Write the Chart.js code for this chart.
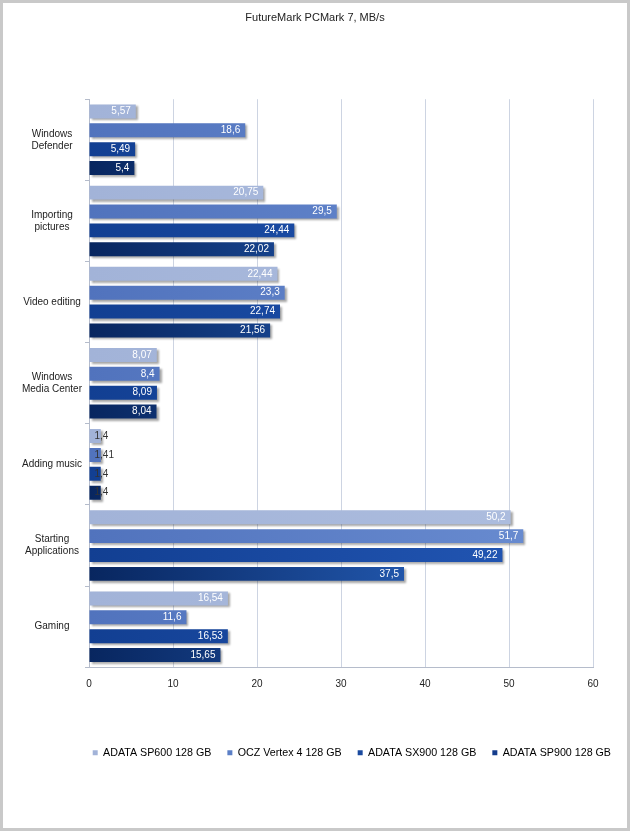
<!DOCTYPE html>
<html>
<head>
<meta charset="utf-8">
<script src="https://cdn.jsdelivr.net/npm/chart.js@4/dist/chart.umd.min.js"></script>
<style>
  html, body { margin: 0; padding: 0; background: #fff; }
  #frame {
    position: absolute; left: 0; top: 0;
    width: 630px; height: 831px;
    box-sizing: border-box;
    border: 3px solid #c9c9c9;
  }
  #frame canvas { display: block; }
</style>
</head>
<body>
<div id="frame"><canvas id="pcmark" width="624" height="825"></canvas></div>
<script>
// Data

const categories = [
    ['Windows', 'Defender'],
    ['Importing', 'pictures'],
    'Video editing',
    ['Windows', 'Media Center'],
    'Adding music',
    ['Starting', 'Applications'],
    'Gaming'
];

const seriesNames = ['ADATA SP600 128 GB', 'OCZ Vertex 4 128 GB', 'ADATA SX900 128 GB', 'ADATA SP900 128 GB'];

const sp600 = [5.57, 20.75, 22.44, 8.07, 1.4, 50.2, 16.54];
const vertex4 = [18.6, 29.5, 23.3, 8.4, 1.41, 51.7, 11.6];
const sx900 = [5.49, 24.44, 22.74, 8.09, 1.4, 49.22, 16.53];
const sp900 = [5.4, 22.02, 21.56, 8.04, 1.4, 37.5, 15.65];

const xTicks = [0, 10, 20, 30, 40, 50, 60];

// Colours (left -> right of each bar)

const barColours = [
    ['#a2b3d8', '#aebedf'],
    ['#5173bd', '#6b8ed2'],
    ['#123f92', '#2459b8'],
    ['#08265f', '#2f71d6']
];
const legendColours = ['#a2b3d8', '#5b7fc6', '#1a4a9f', '#143c8c'];

function barFill(i) {
    return (ctx) => {
        const area = ctx.chart.chartArea;
        if (!area) return barColours[i][0];
        const el = ctx.element;
        const x0 = area.left;
        const x1 = el && el.x > x0 + 2 ? el.x : area.right;
        const g = ctx.chart.ctx.createLinearGradient(x0, 0, x1, 0);
        g.addColorStop(0, barColours[i][0]);
        g.addColorStop(1, barColours[i][1]);
        return g;
    };
}

// Plugins

const barShadow = {
    id: 'barShadow',
    beforeDatasetsDraw(chart) {
        const c = chart.ctx;
        c.save();
        c.shadowColor = 'rgba(0,0,0,0.35)';
        c.shadowOffsetX = 2;
        c.shadowOffsetY = 2;
        c.shadowBlur = 2;
    },
    afterDatasetsDraw(chart) {
        chart.ctx.restore();
    }
};

const valueLabels = {
    id: 'valueLabels',
    afterDatasetsDraw(chart) {
        const c = chart.ctx;
        c.save();
        c.font = '10px "Liberation Sans", Arial, sans-serif';
        c.textBaseline = 'middle';
        chart.data.datasets.forEach((ds, i) => {
            chart.getDatasetMeta(i).data.forEach((bar, j) => {
                const txt = String(ds.data[j]).replace('.', ',');
                const w = c.measureText(txt).width;
                if (bar.x - bar.base > w + 8) {
                    c.fillStyle = '#ffffff';
                    c.textAlign = 'right';
                    c.fillText(txt, bar.x - 5, bar.y);
                } else {
                    c.fillStyle = '#333333';
                    c.textAlign = 'left';
                    c.fillText(txt, bar.base + 5, bar.y);
                }
            });
        });
        c.restore();
    }
};

// Chart

const canvas = document.getElementById('pcmark');
const allSeries = [sp600, vertex4, sx900, sp900];

new Chart(canvas, {
    type: 'bar',
    data: {
        labels: categories,
        datasets: allSeries.map((vals, i) => ({
            label: seriesNames[i],
            data: vals,
            backgroundColor: barFill(i),
            borderWidth: 0,
            categoryPercentage: 0.93,
            barPercentage: 0.74
        }))
    },
    options: {
        indexAxis: 'y',
        responsive: false,
        animation: false,
        layout: { padding: { left: 0, right: 0, top: 0, bottom: 60 } },
        plugins: {
            title: {
                display: true,
                text: 'FutureMark PCMark 7, MB/s',
                color: '#222',
                font: { family: '"Liberation Sans", Arial, sans-serif', size: 11, weight: 'normal' },
                padding: { top: 8, bottom: 75 }
            },
            legend: {
                position: 'bottom',
                align: 'end',
                labels: {
                    color: '#222',
                    boxWidth: 5,
                    boxHeight: 5,
                    padding: 16,
                    font: { family: '"Liberation Sans", Arial, sans-serif', size: 10.7 },
                    generateLabels: () => seriesNames.map((name, i) => ({
                        text: name,
                        fillStyle: legendColours[i],
                        strokeStyle: legendColours[i],
                        lineWidth: 0,
                        datasetIndex: i
                    }))
                }
            },
            tooltip: { enabled: false }
        },
        scales: {
            x: {
                min: 0,
                max: 60,
                afterBuildTicks: (axis) => { axis.ticks = xTicks.map(v => ({ value: v })); },
                afterFit: (axis) => { axis.height = 64; },
                grid: { color: '#cdd4e2', drawTicks: false },
                border: { color: '#b5bccb' },
                ticks: {
                    color: '#222',
                    padding: 11,
                    font: { family: '"Liberation Sans", Arial, sans-serif', size: 10 }
                }
            },
            y: {
                afterFit: (axis) => { axis.width = 86; },
                grid: { drawOnChartArea: false, tickLength: 4, color: '#b5bccb' },
                border: { color: '#b5bccb' },
                ticks: {
                    color: '#222',
                    crossAlign: 'center',
                    font: { family: '"Liberation Sans", Arial, sans-serif', size: 10 }
                }
            },
            spacer: {
                axis: 'y',
                position: 'right',
                afterFit: (axis) => { axis.width = 34; },
                ticks: { display: false },
                grid: { display: false },
                border: { display: false }
            }
        }
    },
    plugins: [barShadow, valueLabels]
});
</script>
</body>
</html>
